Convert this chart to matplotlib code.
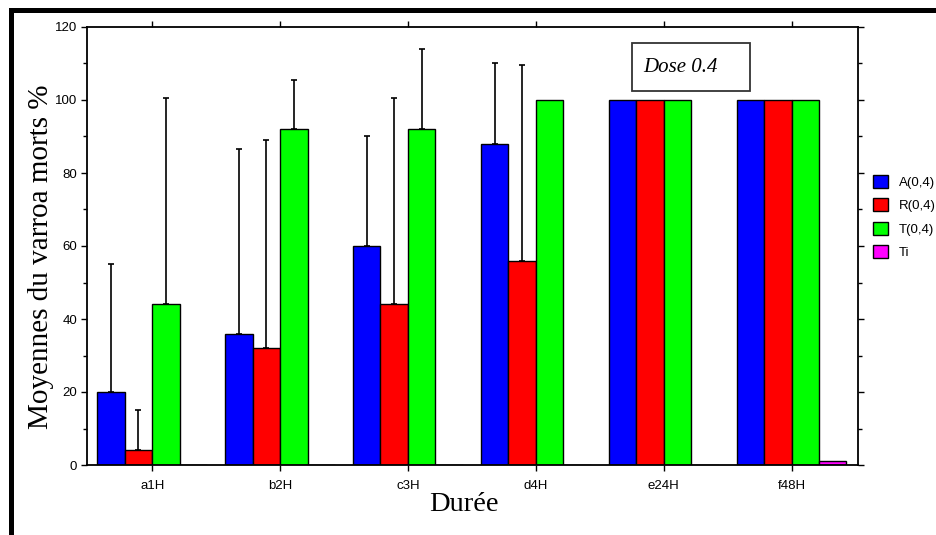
import numpy as np
import matplotlib
matplotlib.use('Agg')
import matplotlib.pyplot as plt
from matplotlib.patches import Rectangle
from matplotlib.ticker import MultipleLocator

# data
durees = ['a1H', 'b2H', 'c3H', 'd4H', 'e24H', 'f48H']
series = ['A(0,4)', 'R(0,4)', 'T(0,4)', 'Ti']
couleurs = ['#0000ff', '#ff0000', '#00ff00', '#ff00ff']

A_moy = [20, 36, 60, 88, 100, 100]
R_moy = [4, 32, 44, 56, 100, 100]
T_moy = [44, 92, 92, 100, 100, 100]
Ti_moy = [0, 0, 0, 0, 0, 1]

# top of the error bars (upper only), nan = no bar
A_haut = [55, 86.5, 90, 110, np.nan, np.nan]
R_haut = [15, 89, 100.5, 109.5, np.nan, np.nan]
T_haut = [100.5, 105.5, 114, np.nan, np.nan, np.nan]
Ti_haut = [np.nan] * 6

moyennes = [A_moy, R_moy, T_moy, Ti_moy]
hauts = [A_haut, R_haut, T_haut, Ti_haut]

plt.rcParams['font.family'] = ['Liberation Sans', 'DejaVu Sans']

fig = plt.figure(figsize=(9.36, 5.35), dpi=100)
ax = fig.add_axes([87/936, 1 - 465/535, (858-87)/936, (465-27)/535])

x = np.arange(len(durees))
w = 0.215
handles = []
for k, (moy, haut) in enumerate(zip(moyennes, hauts)):
    pos = x + (k - 1.5) * w
    b = ax.bar(pos, moy, w, color=couleurs[k], edgecolor='black', linewidth=1.0,
               label=series[k], zorder=2)
    handles.append(b)
    moy_a = np.array(moy, dtype=float)
    haut_a = np.array(haut, dtype=float)
    ok = ~np.isnan(haut_a)
    if ok.any():
        ax.errorbar(pos[ok], moy_a[ok], yerr=[np.zeros(ok.sum()), haut_a[ok] - moy_a[ok]],
                    fmt='none', ecolor='black', elinewidth=1.2, capsize=2, capthick=1.2,
                    zorder=3)

ax.set_xlim(-0.51, 5.52)
ax.set_ylim(0, 120)
ax.set_xticks(x)
ax.set_xticklabels(durees, fontsize=9.5)
ax.yaxis.set_major_locator(MultipleLocator(20))
ax.yaxis.set_minor_locator(MultipleLocator(10))
ax.tick_params(axis='y', which='major', direction='out', length=4, width=1,
               labelsize=9.5, right=True, pad=3)
ax.tick_params(axis='y', which='minor', direction='out', length=3, width=1, right=True)
ax.tick_params(axis='x', which='major', direction='out', length=4, width=1,
               top=True, pad=7)
for s in ax.spines.values():
    s.set_linewidth(1.3)

ax.set_ylabel('Moyennes du varroa morts %', family='Liberation Serif', fontsize=21)
ax.yaxis.set_label_coords(-0.043, 0.475)
ax.set_xlabel('Durée', family='Liberation Serif', fontsize=20.5, labelpad=0)
ax.xaxis.label.set_x(0.489)

# dose box
ax.add_patch(Rectangle((0.707, 0.854), 0.153, 0.109, transform=ax.transAxes,
                       facecolor='white', edgecolor='#333333', linewidth=1.3, zorder=4))
ax.text(0.721, 0.908, 'Dose 0.4', transform=ax.transAxes, family='Liberation Serif',
        style='italic', fontsize=15, va='center', ha='left', zorder=5)

# legend sits right of the axes, close to the image edge
fs = 9.5 * 100 / 72
ax.legend(handles=handles, loc='upper left', bbox_to_anchor=(873/936, 1 - 175/535),
          bbox_transform=fig.transFigure, frameon=False, fontsize=9.5,
          borderpad=0, borderaxespad=0, handlelength=15/fs, handleheight=15/fs,
          handletextpad=11/fs, labelspacing=0.72)

# outer thick frame, cut by the image edges
fig.patches.append(Rectangle((11/936, -0.2), 1.2, 1.2 - 10/535, transform=fig.transFigure,
                             fill=False, edgecolor='black', linewidth=3.6))

fig.savefig('out.png', dpi=100)
